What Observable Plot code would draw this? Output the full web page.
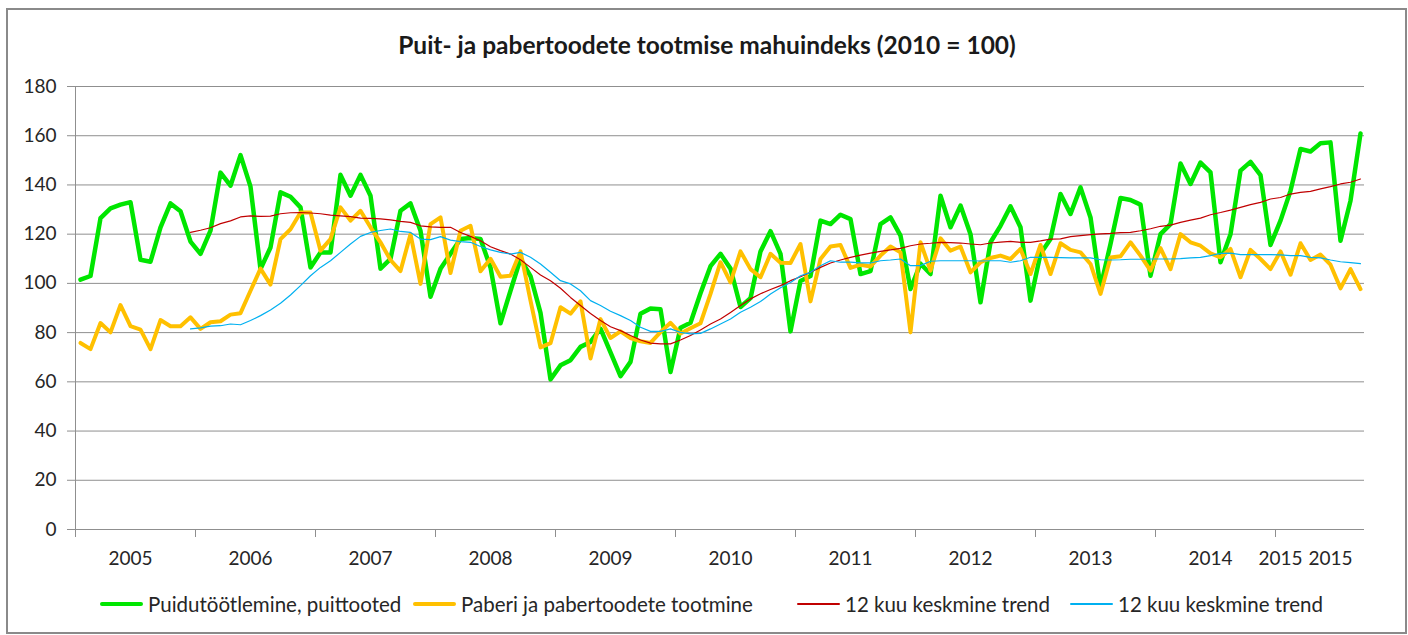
<!DOCTYPE html>
<html>
<head>
<meta charset="utf-8">
<script src="https://cdn.jsdelivr.net/npm/d3@7"></script>
<script src="https://cdn.jsdelivr.net/npm/@observablehq/plot@0.6"></script>
<style>
  html, body { margin: 0; padding: 0; background: #fff; }
  #wrap { position: relative; width: 1408px; height: 635px; overflow: hidden; font-family: Lato, "Open Sans", sans-serif; color: #262626; }
  #frame { position: absolute; left: 6px; top: 8px; width: 1397px; height: 622px; border: 2px solid #8a8a8a; box-sizing: content-box; pointer-events: none; }
  #title { position: absolute; left: 0; width: 1414px; top: 31px; text-align: center; font-weight: bold; font-size: 24.5px; line-height: 28px; color: #1a1a1a; }
  #chart { position: absolute; left: 0; top: 0; }
  .leg { position: absolute; top: 591px; height: 26px; display: flex; align-items: center; font-size: 20.5px; white-space: nowrap; color: #262626; }
  .leg .sw { display: inline-block; width: 43px; margin-right: 5px; border-radius: 2px; }
</style>
</head>
<body>
<div id="wrap">
  <div id="chart"></div>
  <div id="title"></div>
  <div id="legend"></div>
  <div id="frame"></div>
</div>
<script>
const titleText = "Puit- ja pabertoodete tootmise mahuindeks (2010 = 100)";

// Monthly index, Jan 2005 .. Sep 2015 (129 months)
const woodValues = [
  101.5,103,126.5,130.5,132,133,109.6,108.8,122.8,132.5,129.3,117,
  112,121.4,145,139.7,152.1,139.3,105.8,114.6,137,135.2,130.9,106.5,
  112.6,112.6,144.1,135.6,144.1,135.6,106,110,129.5,132.5,121.4,94.6,
  105.9,112,118,118.4,118,106.5,83.8,97,110,103,88,61,
  66.7,68.8,74.2,76.2,81.6,72,62.3,68.1,87.7,89.8,89.5,64,
  82,84,96,107,112,106,90.4,94,113,121.2,112,80.5,
  101,103,125.5,124.1,127.9,126.1,103.8,105,124.1,126.8,119.4,97.7,
  108,103.8,135.6,122.8,131.6,120,92.3,116.7,123.4,131.3,122.8,93,
  112,118,136.3,128.2,139,126.8,98.4,116,134.7,133.9,132,103.1,
  120,124.1,148.7,140.4,149.1,145.1,108.6,120,145.8,149.4,144,115.6,
  125.5,137.6,154.6,153.6,156.9,157.3,117.3,133.6,160.9
];
const paperValues = [
  75.8,73.3,83.9,80.1,91.2,82.6,81.2,73.3,85.1,82.6,82.6,86.2,
  81.5,84.2,84.6,87.3,87.9,97,106,99.5,118,122,128.8,128.8,
  113.3,118,130.9,125.5,129.5,122.8,116.7,109.5,105,120,99.8,124.1,
  126.8,104.2,121.4,123.4,104.9,110,102.7,103.1,113,93,74,75.7,
  90.3,87.7,92.7,69.5,85.5,77.8,80.5,77.8,76.5,75.8,80.2,84,
  79.6,81.8,83.8,95.7,108.6,100.4,113,105.8,102.5,112,108.4,108.3,
  116,92.7,109.9,115,115.6,106.3,107.6,106.9,111.3,115,112.6,80.1,
  116.7,105.2,118.3,113.3,115,104.5,108.6,110.3,111.3,109.9,114,103.8,
  115.6,103.8,116.3,113.6,112.6,107.9,95.7,110.5,111,116.7,111.3,105.2,
  114.3,105.8,120,116.7,115.3,112.2,110.6,114,102.5,113.6,109.9,105.8,
  113,103.5,116.3,109.5,111.7,107.6,98,105.8,97.7
];
// 12-month trends, from Dec 2005 (month 11) onward
const trendStart = 11;
const woodTrend = [
  120.7,
  121.6,122.6,124.3,125.4,127,127.4,127.2,127.3,128.3,128.7,128.8,128.6,
  128.3,127.7,127.4,127.1,126.5,126.4,126.2,125.8,125.2,124.8,123.4,123,
  122.8,122.8,120.7,119.1,117.3,114.9,113.3,111.9,109.6,106.5,103.4,101.1,
  98,94.3,91,87.8,84.9,82.4,80.8,78.8,77,75.7,75.4,75.4,
  77,78.8,81.1,83.5,85.5,88.2,91,93.7,95.8,97.5,99.1,101.1,
  102.7,104.5,106.5,108.3,109.5,110.6,111.5,112.3,113,113.6,114.2,115.3,
  116,116.3,116.7,116.6,116.4,116,115.7,116.4,116.8,117.1,116.7,116.7,
  117.3,118,118.1,119,119.4,119.8,120.1,120.3,120.6,120.7,121.4,122.2,
  123.2,123.7,124.8,125.7,126.5,127.9,128.8,129.8,130.9,132,132.9,134.3,
  134.9,136.3,137,137.4,138.4,139.3,140.4,141.1,142.4
];
const paperTrend = [
  81.5,
  81.9,82.6,82.8,83.5,83.2,84.9,86.9,89.2,91.9,95.3,99.1,103.1,
  106.5,109.2,112.6,116,119.1,120.7,121.5,122.1,121.1,120.7,118,117.8,
  119,117.6,117,116.7,115,113.6,112.6,111.9,112.6,110.6,107.9,104.5,
  101.1,99.8,97,93,91,88.7,86.9,84.9,82.2,80.5,80.5,81.5,
  80.1,79.5,79.7,81.5,83.5,85.5,88.3,90.3,92.6,95.7,98.2,100.4,
  103.1,104.5,107.2,109.2,108.6,108.6,108.3,108.3,109.2,109.5,109.9,107.2,
  107.2,109,109.2,109.2,109.2,109.2,109.1,109.2,109.2,108.6,109.2,110.6,
  110.6,110.6,110.5,110.4,110.4,110.4,109.6,109.5,109.6,109.8,109.8,109.9,
  109.9,109.9,110.1,110.4,110.6,111.3,112.2,112.3,111.7,111.7,111.7,111.7,
  111.6,111.3,111.3,110.6,110.4,109.5,108.8,108.4,108
];

const seriesNames = ["Puidutöötlemine, puittooted", "Paberi ja pabertoodete tootmine", "12 kuu keskmine trend", "12 kuu keskmine trend"];
const seriesColors = ["#00e600", "#ffc000", "#c00000", "#00b0f0"];
const seriesWidths = [4.5, 4, 1.2, 1.2];

const yTicks = [0, 20, 40, 60, 80, 100, 120, 140, 160, 180];
// year boundaries: January of each year
const yearStarts = [0, 12, 24, 36, 48, 60, 72, 84, 96, 108, 120];
const yearLabels = ["2005","2006","2007","2008","2009","2010","2011","2012","2013","2014","2015","2015"];
const yearLabelMonths = [5, 17, 29, 41, 53, 65, 77, 89, 101, 113, 120, 125];

const toRows = (vals, start) => vals.map((v, i) => ({m: start + i, v}));
const rows = [
  toRows(woodValues, 0),
  toRows(paperValues, 0),
  toRows(woodTrend, trendStart),
  toRows(paperTrend, trendStart)
];
const labelRows = yearLabels.map((t, i) => ({m: yearLabelMonths[i], t}));

const gridColor = "#8f8f8f";

const chart = Plot.plot({
  width: 1408,
  height: 580,
  marginLeft: 75,
  marginRight: 44,
  marginTop: 86,
  marginBottom: 51,
  style: {fontFamily: "Lato, 'Open Sans', sans-serif", fontSize: "19px", color: "#262626", background: "transparent"},
  x: {domain: [-0.5, 128.4], axis: null},
  y: {domain: [0, 180], axis: null},
  marks: [
    Plot.ruleY(yTicks, {stroke: gridColor, strokeWidth: 1}),
    Plot.axisY({ticks: yTicks, tickSize: 8, tickPadding: 11, stroke: gridColor, fill: "#262626", fontSize: 19, label: null}),
    Plot.axisX({ticks: yearStarts.map(d => d - 0.5), tickSize: 8, tickFormat: () => "", stroke: gridColor, label: null}),
    Plot.ruleX([-0.5], {stroke: gridColor, strokeWidth: 1}),
    ...rows.map((r, k) => Plot.line(r, {x: "m", y: "v", stroke: seriesColors[k], strokeWidth: seriesWidths[k], strokeLinejoin: "round", strokeLinecap: "round"})),
    Plot.text(labelRows, {x: "m", y: 0, dy: 29, text: "t", fill: "#262626", fontSize: 19})
  ]
});
document.getElementById("chart").appendChild(chart);
document.getElementById("title").textContent = titleText;

const legendLefts = [100, 413, 797, 1070];
const legend = document.getElementById("legend");
seriesNames.forEach((name, k) => {
  const item = document.createElement("div");
  item.className = "leg";
  item.style.left = legendLefts[k] + "px";
  const sw = document.createElement("span");
  sw.className = "sw";
  sw.style.height = seriesWidths[k] > 2 ? "4.5px" : "1.5px";
  sw.style.background = seriesColors[k];
  const tx = document.createElement("span");
  tx.textContent = name;
  item.appendChild(sw);
  item.appendChild(tx);
  legend.appendChild(item);
});
</script>
</body>
</html>
